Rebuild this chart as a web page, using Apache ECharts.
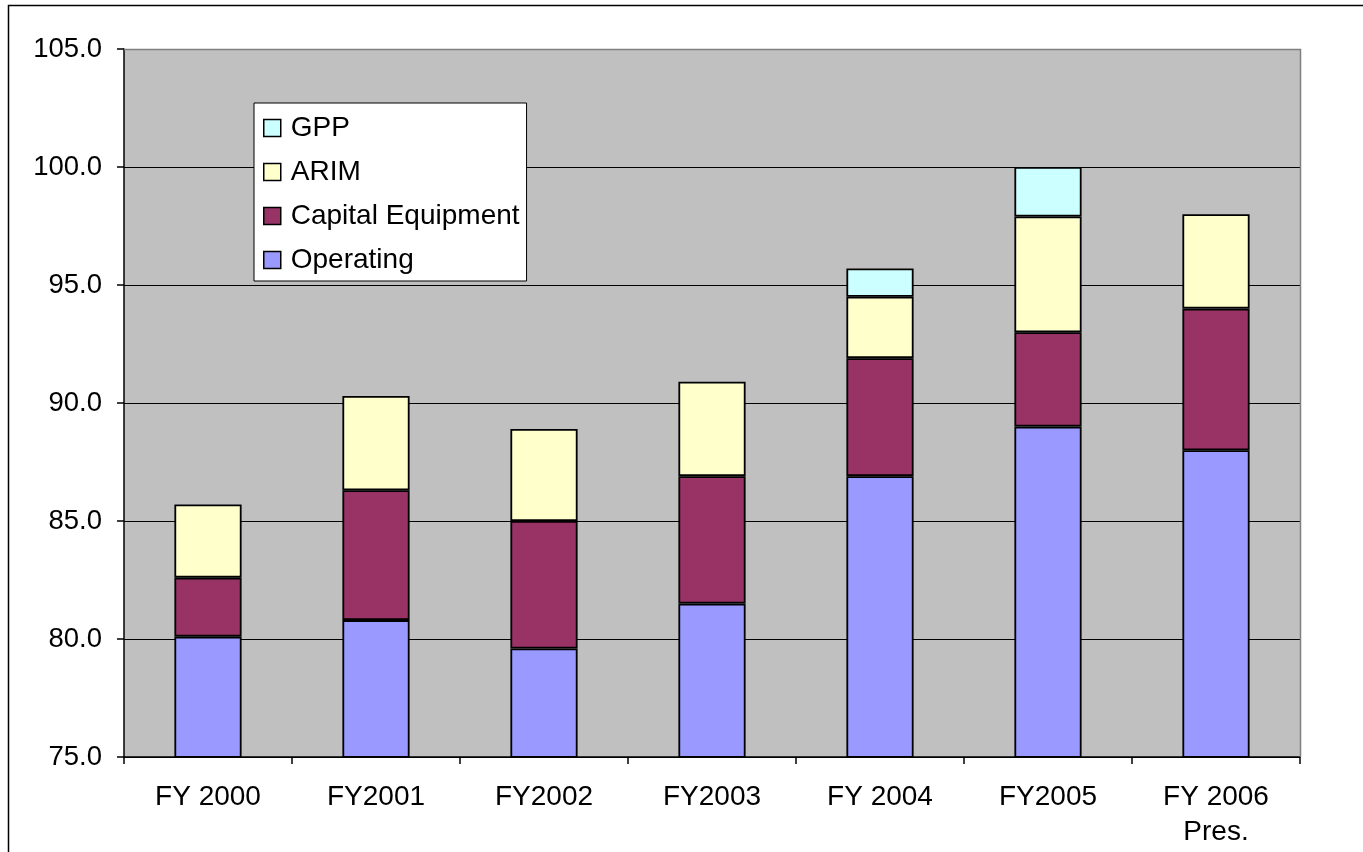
<!DOCTYPE html>
<html>
<head>
<meta charset="utf-8">
<script src="https://cdn.jsdelivr.net/npm/echarts@6/dist/echarts.min.js"></script>
<style>
html,body{margin:0;padding:0;background:#fff;}
#chart{width:1363px;height:852px;}
</style>
</head>
<body>
<div id="chart"></div>
<script>
const categories = ['FY 2000', 'FY2001', 'FY2002', 'FY2003', 'FY 2004', 'FY2005', 'FY 2006\nPres.'];
const operating = [80.1, 80.8, 79.6, 81.5, 86.9, 89.0, 88.0];
const capitalEquipment = [2.5, 5.5, 5.4, 5.4, 5.0, 4.0, 6.0];
const arim = [3.1, 4.0, 3.9, 4.0, 2.6, 4.9, 4.0];
const gpp = ['-', '-', '-', '-', 1.2, 2.1, '-'];
const yMin = 75, yMax = 105, yInterval = 5;

const FONT = 'Liberation Sans, Arial, sans-serif';
const chart = echarts.init(document.getElementById('chart'), null, {renderer: 'canvas'});

function barSeries(name, data, color) {
  return {
    name: name,
    type: 'bar',
    stack: 'total',
    data: data,
    barCategoryGap: '60%',
    itemStyle: {color: color, borderColor: '#000', borderWidth: 1.8},
    emphasis: {disabled: true}
  };
}

chart.setOption({
  animation: false,
  graphic: [{
    type: 'rect',
    shape: {x: 8.5, y: 5.5, width: 1362, height: 900},
    style: {fill: 'none', stroke: '#000', lineWidth: 1.5},
    silent: true,
    z: -1
  }, {
    type: 'polyline',
    shape: {points: [[124, 49.5], [1300.5, 49.5], [1300.5, 757]]},
    style: {stroke: '#808080', lineWidth: 1.5, fill: 'none'},
    silent: true,
    z: 5
  }],
  grid: {left: 124, top: 49, right: 63, bottom: 95, backgroundColor: '#C0C0C0', show: true, borderWidth: 0},
  legend: {
    orient: 'vertical',
    left: 254,
    top: 103,
    data: ['GPP', 'ARIM', 'Capital Equipment', 'Operating'],
    backgroundColor: '#fff',
    borderColor: '#000',
    borderWidth: 1,
    padding: [11, 7, 7, 9],
    itemWidth: 17,
    itemHeight: 17,
    itemGap: 16,
    icon: 'rect',
    itemStyle: {borderColor: '#000', borderWidth: 1.5},
    textStyle: {fontFamily: FONT, fontSize: 28, color: '#000', lineHeight: 28, padding: [0, 0, 0, 5]},
    selectedMode: false
  },
  xAxis: {
    type: 'category',
    data: categories,
    axisLine: {lineStyle: {color: '#000', width: 1.5}},
    axisTick: {show: true, length: 7, lineStyle: {color: '#000', width: 1.5}, alignWithLabel: false},
    axisLabel: {fontFamily: FONT, fontSize: 28, color: '#000', lineHeight: 35, margin: 23, interval: 0}
  },
  yAxis: {
    type: 'value',
    min: yMin,
    max: yMax,
    interval: yInterval,
    axisLine: {show: true, lineStyle: {color: '#000', width: 1.5}},
    axisTick: {show: true, length: 7, lineStyle: {color: '#000', width: 1.5}},
    splitLine: {show: true, lineStyle: {color: '#000', width: 1.2}},
    axisLabel: {fontFamily: FONT, fontSize: 27.5, color: '#000', margin: 22, formatter: v => v.toFixed(1)}
  },
  series: [
    barSeries('Operating', operating, '#9999FF'),
    barSeries('Capital Equipment', capitalEquipment, '#993366'),
    barSeries('ARIM', arim, '#FFFFCC'),
    barSeries('GPP', gpp, '#CCFFFF')
  ]
});
</script>
</body>
</html>
